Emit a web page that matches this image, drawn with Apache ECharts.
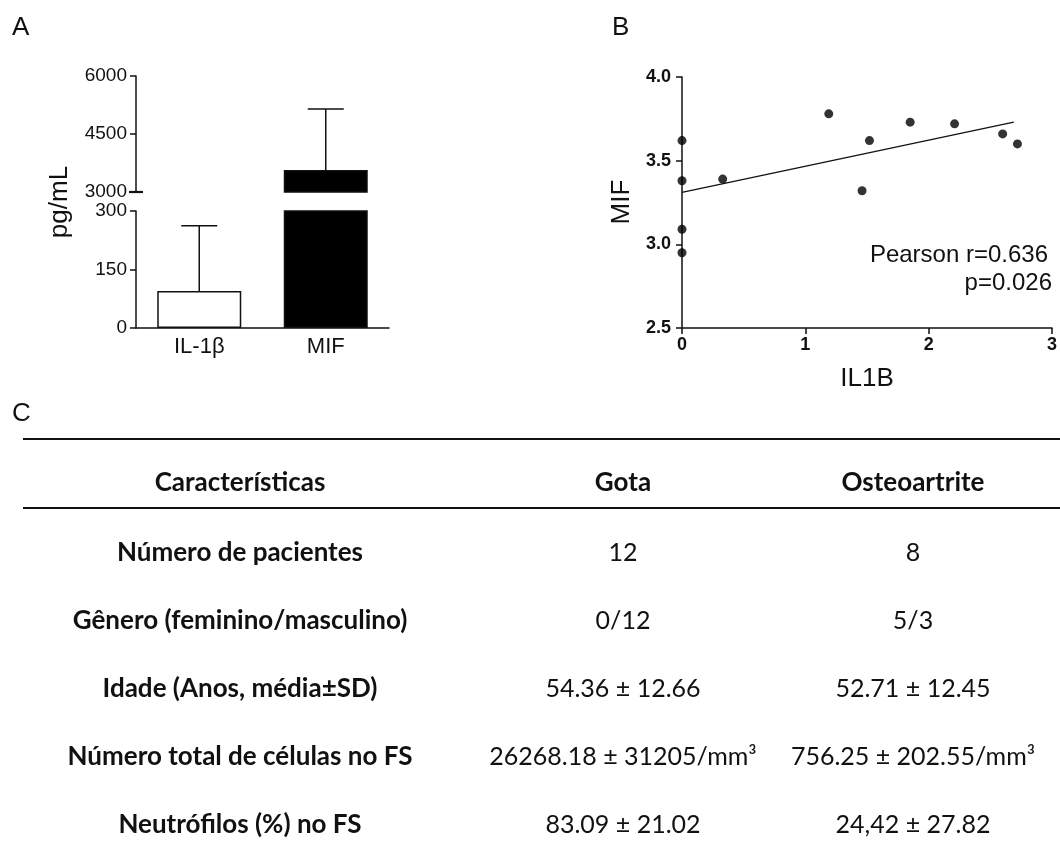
<!DOCTYPE html>
<html>
<head>
<meta charset="utf-8">
<script src="https://cdn.jsdelivr.net/npm/echarts@6/dist/echarts.min.js"></script>
<style>
  html, body { margin: 0; padding: 0; background: #fff; }
  #chart { width: 1060px; height: 847px; }
</style>
</head>
<body>
<div id="chart"></div>
<script>
// Panel A: mean + SD (pg/mL), broken y axis
const categories = ['IL-1β', 'MIF'];
const means = [95, 3570];
const sds = [167, 1577];
const barFills = ['#ffffff', '#000000'];

// Panel B: IL1B vs MIF scatter + fit line
const il1bX = [0, 0, 0, 0, 0.33, 1.19, 1.52, 1.46, 1.85, 2.21, 2.60, 2.72];
const mifY = [3.62, 3.38, 3.09, 2.95, 3.39, 3.78, 3.62, 3.32, 3.73, 3.72, 3.66, 3.60];
const fitX = [0, 2.69];
const fitY = [3.31, 3.73];
const pearsonText = ['Pearson r=0.636', 'p=0.026'];

// Panel C: table
const colHeaders = ['Características', 'Gota', 'Osteoartrite'];
const rowLabels = [
  'Número de pacientes',
  'Gênero (feminino/masculino)',
  'Idade (Anos, média±SD)',
  'Número total de células no FS',
  'Neutrófilos (%) no FS'
];
const gotaVals = ['12', '0/12', '54.36 ± 12.66', '26268.18 ± 31205/mm³', '83.09 ± 21.02'];
const oaVals = ['8', '5/3', '52.71 ± 12.45', '756.25 ± 202.55/mm³', '24,42 ± 27.82'];

const INK = '#111';
const SANS = '"Liberation Sans", Arial, sans-serif';
const TABLE_FONT = 'Lato, "Open Sans", sans-serif';

const chart = echarts.init(document.getElementById('chart'));

function errorBar(params, api) {
  const x = api.value(0);
  const m = api.value(1);
  const s = api.value(2);
  const base = api.coord([x, m]);
  const top = api.coord([x, m + s]);
  const cap = 18;
  return {
    type: 'group',
    children: [
      { type: 'line', shape: { x1: base[0], y1: base[1], x2: top[0], y2: top[1] }, style: { stroke: INK, lineWidth: 1.5 } },
      { type: 'line', shape: { x1: top[0] - cap, y1: top[1], x2: top[0] + cap, y2: top[1] }, style: { stroke: INK, lineWidth: 1.5 } }
    ]
  };
}

const lowerMax = 300;
const upperMin = 3000;
const barData = means.map((v, i) => ({
  value: v,
  itemStyle: { color: barFills[i], borderColor: INK, borderWidth: 1.5 }
}));
const upperBarData = means.map((v, i) => v >= upperMin ? {
  value: v,
  itemStyle: { color: barFills[i], borderColor: INK, borderWidth: 1.5 }
} : '-');
const errLower = means.map((v, i) => [i, v, sds[i]]).filter(d => d[1] + d[2] <= lowerMax);
const errUpper = means.map((v, i) => [i, v, sds[i]]).filter(d => d[1] >= upperMin);

const yAxisCommon = {
  type: 'value',
  splitLine: { show: false },
  axisLine: { show: true, lineStyle: { color: INK, width: 1.5 } },
  axisTick: { show: true, length: 6, lineStyle: { color: INK, width: 1.5 } }
};

// table graphics
const colX = [240, 623, 913];
const headerY = 483;
const rowY0 = 553;
const rowStep = 68;
const tableGraphics = [];
colHeaders.forEach((h, j) => {
  tableGraphics.push({ type: 'text', x: colX[j], y: headerY,
    style: { text: h, font: 'bold 26px ' + TABLE_FONT, fill: INK, textAlign: 'center', textVerticalAlign: 'middle' } });
});
rowLabels.forEach((r, i) => {
  const y = rowY0 + i * rowStep;
  tableGraphics.push({ type: 'text', x: colX[0], y: y,
    style: { text: r, font: 'bold 26px ' + TABLE_FONT, fill: INK, textAlign: 'center', textVerticalAlign: 'middle' } });
  tableGraphics.push({ type: 'text', x: colX[1], y: y,
    style: { text: gotaVals[i], font: '25px ' + TABLE_FONT, fill: INK, textAlign: 'center', textVerticalAlign: 'middle' } });
  tableGraphics.push({ type: 'text', x: colX[2], y: y,
    style: { text: oaVals[i], font: '25px ' + TABLE_FONT, fill: INK, textAlign: 'center', textVerticalAlign: 'middle' } });
});
[439, 508].forEach(y => {
  tableGraphics.push({ type: 'line', shape: { x1: 23, y1: y, x2: 1060, y2: y }, style: { stroke: INK, lineWidth: 2 } });
});

const option = {
  backgroundColor: '#fff',
  animation: false,
  textStyle: { fontFamily: SANS, color: INK },
  grid: [
    { left: 136, top: 76, width: 253, height: 116 },
    { left: 136, top: 211, width: 253, height: 117 },
    { left: 682, top: 77, width: 377, height: 251 }
  ],
  xAxis: [
    { type: 'category', gridIndex: 0, data: categories, show: false },
    { type: 'category', gridIndex: 1, data: categories,
      axisLine: { show: true, lineStyle: { color: INK, width: 1.5 } },
      axisTick: { show: false },
      axisLabel: { color: INK, fontSize: 22, margin: 8 } },
    { type: 'value', gridIndex: 2, min: 0, max: 3, interval: 1,
      splitLine: { show: false },
      axisLine: { show: true, onZero: false, lineStyle: { color: INK, width: 1.5 } },
      axisTick: { show: true, length: 6, lineStyle: { color: INK, width: 1.5 } },
      axisLabel: { color: INK, fontSize: 18, fontWeight: 'bold', margin: 8 } }
  ],
  yAxis: [
    Object.assign({}, yAxisCommon, { gridIndex: 0, min: 3000, max: 6000, interval: 1500,
      axisLabel: { color: INK, fontSize: 19, margin: 9, formatter: v => String(v) } }),
    Object.assign({}, yAxisCommon, { gridIndex: 1, min: 0, max: 300, interval: 150,
      axisLabel: { color: INK, fontSize: 19, margin: 9, formatter: v => String(v) } }),
    Object.assign({}, yAxisCommon, { gridIndex: 2, min: 2.5, max: 4.0, interval: 0.5,
      axisLabel: { color: INK, fontSize: 18, fontWeight: 'bold', margin: 11, formatter: v => v.toFixed(1) } })
  ],
  series: [
    { type: 'bar', xAxisIndex: 0, yAxisIndex: 0, data: upperBarData, barWidth: 84 },
    { type: 'bar', xAxisIndex: 1, yAxisIndex: 1, data: barData, barWidth: 84 },
    { type: 'custom', xAxisIndex: 0, yAxisIndex: 0, data: errUpper, renderItem: errorBar, z: 3 },
    { type: 'custom', xAxisIndex: 1, yAxisIndex: 1, data: errLower, renderItem: errorBar, z: 3 },
    { // axis break mark at the bottom of the upper segment
      type: 'custom', xAxisIndex: 0, yAxisIndex: 0, data: [[0, upperMin]], z: 4,
      renderItem: (params, api) => {
        const y = api.coord([0, api.value(1)])[1];
        const x = params.coordSys.x;
        return { type: 'line', shape: { x1: x - 7, y1: y, x2: x + 7, y2: y }, style: { stroke: INK, lineWidth: 2.2 } };
      }
    },
    { type: 'line', xAxisIndex: 2, yAxisIndex: 2, data: fitX.map((x, i) => [x, fitY[i]]),
      symbol: 'none', lineStyle: { color: INK, width: 1.3 }, z: 2 },
    { type: 'scatter', xAxisIndex: 2, yAxisIndex: 2, data: il1bX.map((x, i) => [x, mifY[i]]),
      symbolSize: 9, itemStyle: { color: '#000' }, clip: false, z: 3 }
  ],
  graphic: [
    { type: 'text', x: 12, y: 15, style: { text: 'A', font: '26px ' + SANS, fill: INK } },
    { type: 'text', x: 612, y: 15, style: { text: 'B', font: '26px ' + SANS, fill: INK } },
    { type: 'text', x: 12, y: 401, style: { text: 'C', font: '26px ' + SANS, fill: INK } },
    { type: 'text', x: 60, y: 202, rotation: Math.PI / 2,
      style: { text: 'pg/mL', font: '26px ' + SANS, fill: INK, textAlign: 'center', textVerticalAlign: 'middle' } },
    { type: 'text', x: 622, y: 202, rotation: Math.PI / 2,
      style: { text: 'MIF', font: '26px ' + SANS, fill: INK, textAlign: 'center', textVerticalAlign: 'middle' } },
    { type: 'text', x: 867, y: 379,
      style: { text: 'IL1B', font: '26px ' + SANS, fill: INK, textAlign: 'center', textVerticalAlign: 'middle' } },
    { type: 'text', x: 1048, y: 255,
      style: { text: pearsonText[0], font: '24px ' + SANS, fill: INK, textAlign: 'right', textVerticalAlign: 'middle' } },
    { type: 'text', x: 1052, y: 283,
      style: { text: pearsonText[1], font: '24px ' + SANS, fill: INK, textAlign: 'right', textVerticalAlign: 'middle' } }
  ].concat(tableGraphics)
};

chart.setOption(option);
</script>
</body>
</html>
